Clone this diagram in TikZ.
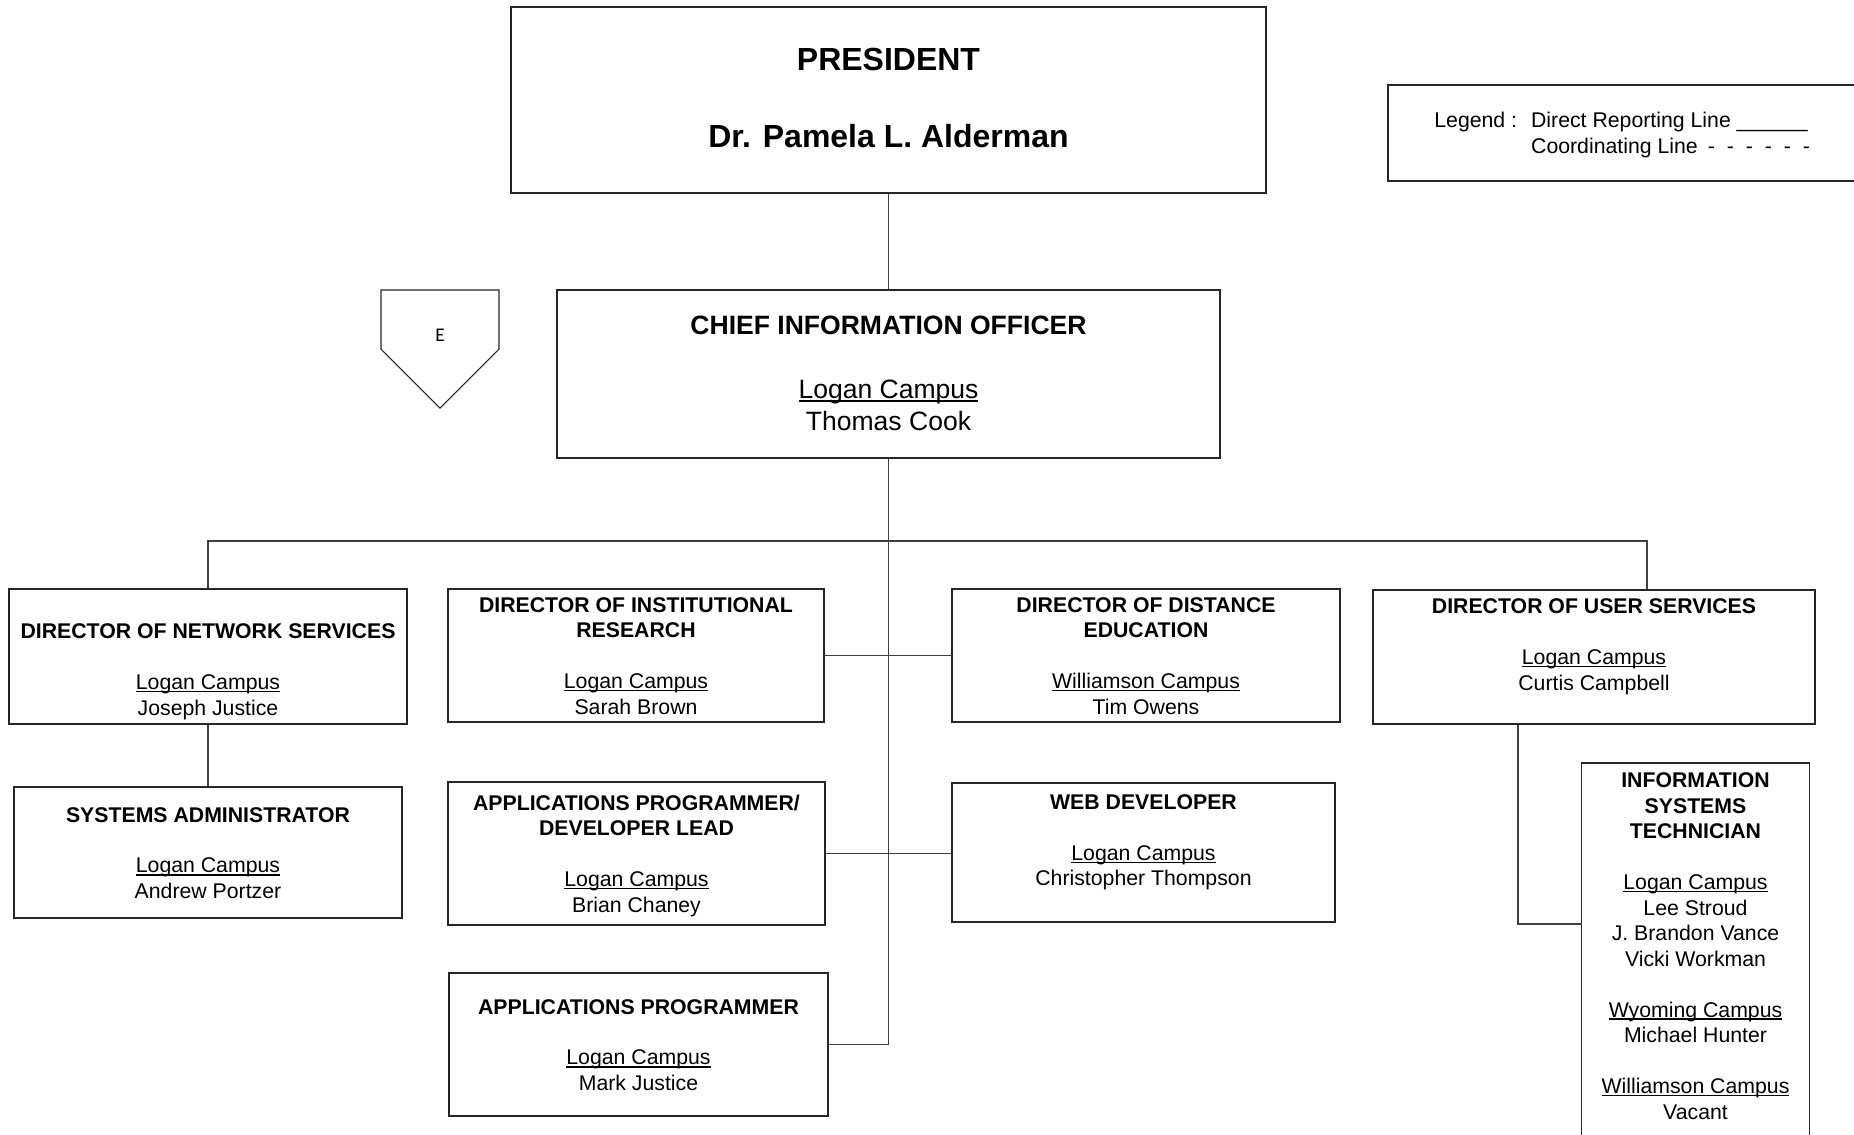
\documentclass[tikz,border=0pt]{standalone}
\usepackage{fontspec}
\setmainfont{Liberation Sans}
\newfontfamily\pagefont{Carlito}
\newlength{\camplen}
\newcommand{\campus}[1]{\settowidth{\camplen}{#1}\rlap{\rule[-0.12em]{\camplen}{0.06em}}#1}
\newcommand{\lift}[1]{\rule{0pt}{\dimexpr0.7\baselineskip+#1\relax}}

\begin{document}
\begin{tikzpicture}[
		frame/.style={draw=black!85,line width=0.6pt},
		post/.style={frame,align=center,inner sep=0pt},
		big/.style={font=\fontsize{18.2}{21.9}\selectfont\bfseries},
		mid/.style={font=\fontsize{15.1}{18.2}\selectfont},
		small/.style={font=\fontsize{12.1}{14.5}\selectfont},
		link/.style={draw=black!75,line width=0.6pt}
	]
	\useasboundingbox (0,0) rectangle (37.08,-22.68);
	\clip (0,0) rectangle (37.08,-22.68);

	\node[post,big,minimum width=15.1cm,minimum height=3.72cm] (pres) at (17.77,-2.0) {\lift{1.3pt}PRESIDENT\\\strut\\Dr. Pamela L. Alderman\strut};
	\node[post,mid,minimum width=13.26cm,minimum height=3.36cm] (cio) at (17.77,-7.48) {\lift{2.7pt}\textbf{CHIEF INFORMATION OFFICER}\\\strut\\\campus{Logan Campus}\\Thomas Cook\strut};

	\draw[frame] (7.62,-5.8) -- (9.98,-5.8) -- (9.98,-6.98) -- (8.8,-8.16) -- (7.62,-6.98) -- cycle;
	\node[font=\pagefont\fontsize{11}{13}\selectfont] (offpage) at (8.8,-6.7) {E};

	\node[small,anchor=west,inner sep=0pt] (legend) at (28.68,-2.71) {\begin{tabular}{@{}l@{\hspace{0.66em}}l@{}}Legend : & Direct Reporting Line \_\_\_\_\_\_\\ & Coordinating Line \hspace{0.2em}-\hspace{0.56em}-\hspace{0.56em}-\hspace{0.56em}-\hspace{0.56em}-\hspace{0.56em}-\end{tabular}};
	\draw[frame] (37.3,-1.7) -| (27.76,-3.62) -- (37.3,-3.62);

	\node[post,small,minimum width=7.96cm,minimum height=2.7cm] (netsvc) at (4.16,-13.13) {\lift{3pt}\\\textbf{DIRECTOR OF NETWORK SERVICES}\\\strut\\\campus{Logan Campus}\\Joseph Justice\strut};
	\node[post,small,minimum width=7.76cm,minimum height=2.62cm] (sysadmin) at (4.16,-17.05) {\lift{3pt}\textbf{SYSTEMS ADMINISTRATOR}\\\strut\\\campus{Logan Campus}\\Andrew Portzer\strut};
	\node[post,small,minimum width=7.52cm,minimum height=2.66cm] (instres) at (12.72,-13.11) {\lift{3pt}\textbf{DIRECTOR OF INSTITUTIONAL}\\\textbf{RESEARCH}\\\strut\\\campus{Logan Campus}\\Sarah Brown\strut};
	\node[post,small,minimum width=7.54cm,minimum height=2.86cm] (appdev) at (12.73,-17.07) {\lift{3pt}\textbf{APPLICATIONS PROGRAMMER/}\\\textbf{DEVELOPER LEAD}\\\strut\\\campus{Logan Campus}\\Brian Chaney\strut};
	\node[post,small,minimum width=7.58cm,minimum height=2.86cm] (appprog) at (12.77,-20.89) {\lift{3pt}\textbf{APPLICATIONS PROGRAMMER}\\\strut\\\campus{Logan Campus}\\Mark Justice\strut};
	\node[post,small,minimum width=7.76cm,minimum height=2.66cm] (distedu) at (22.92,-13.11) {\lift{3pt}\textbf{DIRECTOR OF DISTANCE}\\\textbf{EDUCATION}\\\strut\\\campus{Williamson Campus}\\Tim Owens\strut};
	\node[post,small,minimum width=7.66cm,minimum height=2.78cm] (webdev) at (22.87,-17.05) {\lift{3pt}\textbf{WEB DEVELOPER}\\\strut\\\campus{Logan Campus}\\Christopher Thompson\\\strut};
	\node[post,small,minimum width=8.84cm,minimum height=2.68cm] (usersvc) at (31.88,-13.14) {\lift{3pt}\textbf{DIRECTOR OF USER SERVICES}\\\strut\\\campus{Logan Campus}\\Curtis Campbell\\\strut};
	\node[small,align=center,anchor=north,minimum width=4.54cm,inner xsep=0pt,inner ysep=3.8pt] (infotech) at (33.91,-15.26) {\strut\textbf{INFORMATION}\\\textbf{SYSTEMS}\\\textbf{TECHNICIAN}\\\strut\\\campus{Logan Campus}\\Lee Stroud\\J. Brandon Vance\\Vicki Workman\\\strut\\\campus{Wyoming Campus}\\Michael Hunter\\\strut\\\campus{Williamson Campus}\\Vacant\strut};
	\draw[frame] (infotech.north west) rectangle ([yshift=-1cm]infotech.south east);

	\coordinate (busR) at (32.94,-10.82);
	\coordinate (itjoin) at (31.64,-18.48);
	\draw[link] (pres) -- (cio);
	\draw[link] (cio.south) |- (appprog.east);
	\draw[link] (instres.east) -- (distedu.west);
	\draw[link] (appdev.east) -- (appdev.east -| webdev.west);
	\draw[link] (netsvc.north) |- (busR) -- (busR |- usersvc.north);
	\draw[link] (netsvc) -- (sysadmin);
	\draw[link] ([xshift=-1.52cm]usersvc.south) |- (itjoin);
\end{tikzpicture}
\end{document}
